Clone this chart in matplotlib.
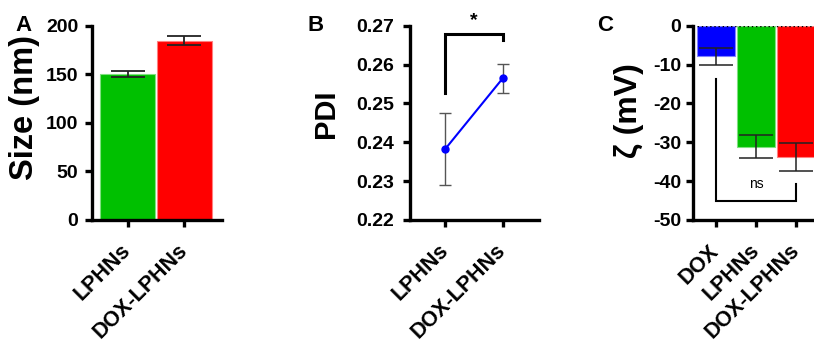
import matplotlib
matplotlib.use("Agg")
import matplotlib.pyplot as plt

plt.rcParams['font.family'] = ['Liberation Sans', 'DejaVu Sans']
plt.rcParams['font.weight'] = 'bold'
plt.rcParams['axes.unicode_minus'] = False

# ---- data ----
size_cats = ["LPHNs", "DOX-LPHNs"]
size_vals = [150.2, 184.5]
size_err = [3.3, 4.5]

pdi_cats = ["LPHNs", "DOX-LPHNs"]
pdi_vals = [0.2382, 0.2565]
pdi_err = [0.0093, 0.0037]

zeta_cats = ["DOX", "LPHNs", "DOX-LPHNs"]
zeta_vals = [-7.9, -31.1, -33.8]
zeta_err = [2.2, 3.05, 3.5]

green = "#00C000"
red = "#FF0000"
blue = "#0000FF"

W, H = 814, 349
fig = plt.figure(figsize=(W / 100, H / 100), dpi=100)


def ax_px(l, r, t, b):
    return fig.add_axes([l / W, 1 - b / H, (r - l) / W, (b - t) / H])


def style(ax, ypad):
    for s in ("top", "right"):
        ax.spines[s].set_visible(False)
    for s in ("left", "bottom"):
        ax.spines[s].set_linewidth(2.4)
    ax.tick_params(axis="both", width=2.4, length=5, labelsize=14)
    ax.tick_params(axis="y", pad=ypad)
    ax.tick_params(axis="x", pad=15)


def xlabels(ax, cats):
    ax.set_xticks(range(len(cats)))
    ax.set_xticklabels(cats, rotation=45, ha="right", va="center",
                       rotation_mode="anchor", fontweight="bold", fontsize=15.5)


# Panel A
axA = ax_px(92, 222.3, 25.7, 220)
x = range(len(size_cats))
axA.bar(x, size_vals, width=0.97, color=[green, red], edgecolor=["#7fe07f", "#ff8080"], linewidth=0.8, zorder=2)
axA.errorbar(x, size_vals, yerr=size_err, fmt="none", ecolor="#222222", elinewidth=1.3, capsize=12, capthick=1.3, zorder=3)
axA.set_xlim(-0.63, 1.67)
axA.set_ylim(0, 200)
axA.set_yticks([0, 50, 100, 150, 200])
style(axA, 4.8)
xlabels(axA, size_cats)
axA.set_ylabel("Size (nm)", fontsize=23.5, fontweight="bold", va="center")
axA.yaxis.set_label_coords(-0.52, 0.58)

# Panel B
axB = ax_px(410.3, 539.3, 25.7, 220)
x = range(len(pdi_cats))
axB.errorbar(x, pdi_vals, yerr=pdi_err, fmt="none", ecolor="#555555", elinewidth=1.0, capsize=4, capthick=1.0, zorder=2)
axB.plot(x, pdi_vals, color=blue, lw=1.5, marker="o", markersize=5, zorder=3)
axB.set_xlim(-0.6, 1.63)
axB.set_ylim(0.22, 0.27)
axB.set_yticks([0.22, 0.23, 0.24, 0.25, 0.26, 0.27])
axB.set_yticklabels(["0.22", "0.23", "0.24", "0.25", "0.26", "0.27"])
style(axB, 7)
xlabels(axB, pdi_cats)
axB.set_ylabel("PDI", fontsize=21, fontweight="bold", va="center")
axB.yaxis.set_label_coords(-0.655, 0.548)
axB.plot([0, 0, 1, 1], [0.2526, 0.2678, 0.2678, 0.2663], color="black", lw=2.2, clip_on=False, solid_joinstyle="miter")
axB.text(0.5, 0.2712, "*", ha="center", va="center", fontsize=14, fontweight="bold")

# Panel C
axC = ax_px(693.3, 693.3 + 3.14 * 40, 25.7, 220)
x = range(len(zeta_cats))
axC.bar(x, zeta_vals, width=0.94, color=[blue, green, red], edgecolor=["#8080ff", "#7fe07f", "#ff8080"], linewidth=0.8, zorder=2)
axC.errorbar(x, zeta_vals, yerr=zeta_err, fmt="none", ecolor="#222222", elinewidth=1.1, capsize=12, capthick=1.1, zorder=3)
axC.axhline(0, color="black", lw=1.0, ls=(0, (1, 2)), zorder=4)
axC.set_xlim(-0.57, 2.57)
axC.set_ylim(-50, 0)
axC.set_yticks([-50, -40, -30, -20, -10, 0])
style(axC, 3.6)
xlabels(axC, zeta_cats)
axC.set_ylabel("ζ (mV)", fontsize=23, fontweight="bold", va="center")
axC.yaxis.set_label_coords(-0.512, 0.561)
axC.plot([0, 0, 2, 2], [-13.8, -45.1, -45.1, -40.7], color="black", lw=1.5, solid_joinstyle="miter")
axC.text(1, -40.8, "ns", ha="center", va="center", fontsize=10, fontweight="normal")

# Panel letters
fig.text(23 / W, 1 - 25.5 / H, "A", fontsize=16, fontweight="bold", ha="center", va="center")
fig.text(315.5 / W, 1 - 25.5 / H, "B", fontsize=16, fontweight="bold", ha="center", va="center")
fig.text(605 / W, 1 - 25.5 / H, "C", fontsize=16, fontweight="bold", ha="center", va="center")

fig.savefig("out.png", dpi=100)
